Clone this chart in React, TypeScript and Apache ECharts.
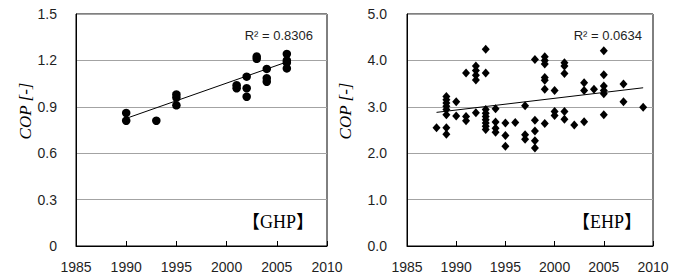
import React, { useEffect, useRef } from "react";
import * as echarts from "echarts";

// GHP (gas heat pump) measured COP by year
const ghpYears = [1990, 1990, 1993, 1995, 1995, 1995, 2001, 2001, 2002, 2002, 2002, 2003, 2003, 2004, 2004, 2004, 2006, 2006, 2006, 2006];
const ghpCop = [0.86, 0.81, 0.81, 0.98, 0.96, 0.91, 1.04, 1.02, 1.095, 1.02, 0.965, 1.225, 1.21, 1.145, 1.085, 1.062, 1.242, 1.2, 1.185, 1.148];
const ghpTrendYears = [1990, 2006];
const ghpTrendCop = [0.825, 1.19];
const ghpR2 = "R² = 0.8306";

// EHP (electric heat pump) measured COP by year
const ehpYears = [
  1988,
  1989, 1989, 1989, 1989, 1989, 1989, 1989, 1989,
  1990, 1990,
  1991, 1991, 1991,
  1992, 1992, 1992, 1992, 1992,
  1993, 1993, 1993, 1993, 1993, 1993, 1993, 1993, 1993,
  1994, 1994, 1994, 1994,
  1995, 1995, 1995,
  1996,
  1997, 1997, 1997,
  1998, 1998, 1998, 1998, 1998,
  1999, 1999, 1999, 1999, 1999, 1999, 1999,
  2000, 2000, 2000,
  2001, 2001, 2001, 2001, 2001,
  2002,
  2003, 2003, 2003,
  2004,
  2005, 2005, 2005, 2005, 2005, 2005,
  2007, 2007,
  2009,
];
const ehpCop = [
  2.55,
  3.22, 3.15, 3.08, 3.01, 2.94, 2.83, 2.55, 2.41,
  3.11, 2.8,
  3.73, 2.79, 2.7,
  3.88, 3.78, 3.68, 3.58, 2.87,
  4.24, 3.73, 2.94, 2.86, 2.79, 2.72, 2.65, 2.58, 2.51,
  2.96, 2.67, 2.54, 2.45,
  2.65, 2.38, 2.15,
  2.66,
  3.02, 2.4, 2.3,
  4.02, 2.71, 2.48, 2.27, 2.11,
  4.08, 4.0, 3.92, 3.63, 3.57, 3.38, 2.64,
  3.35, 2.9, 2.81,
  3.95, 3.88, 3.72, 2.9, 2.73,
  2.61,
  3.52, 3.35, 2.68,
  3.38,
  4.21, 3.69, 3.45, 3.35, 3.28, 2.83,
  3.49, 3.11,
  2.99,
];
const ehpTrendYears = [1988, 2009];
const ehpTrendCop = [2.88, 3.41];
const ehpR2 = "R² = 0.0634";

const xMin = 1985;
const xMax = 2010;
const xStep = 5;
const ghpYMax = 1.5;
const ghpYStep = 0.3;
const ehpYMax = 5.0;
const ehpYStep = 1.0;
const yName = "COP [-]";
const ghpTag = "【GHP】";
const ehpTag = "【EHP】";

const zip = (a: number[], b: number[]) => a.map((v, i) => [v, b[i]]);

const SANS = "'Liberation Sans', Arial, sans-serif";
const SERIF = "'Liberation Serif', 'Times New Roman', 'Noto Sans CJK JP', serif";
const LABEL = "#1f1f1f";
const GRID = "#a3a3a3";

function xAxis(gridIndex: number) {
  return {
    type: "value",
    gridIndex,
    min: xMin,
    max: xMax,
    interval: xStep,
    axisLine: { show: true, lineStyle: { color: "#000", width: 1 } },
    axisTick: { show: true, inside: true, length: 5, lineStyle: { color: "#000" } },
    axisLabel: {
      color: LABEL,
      fontSize: 14,
      fontFamily: SANS,
      margin: 14,
      showMaxLabel: true,
      showMinLabel: true,
      hideOverlap: false,
      formatter: (v: number) => String(Math.round(v)),
    },
    splitLine: { show: false },
  };
}

function yAxis(gridIndex: number, max: number, step: number, fmt: (v: number) => string, margin: number) {
  return {
    type: "value",
    gridIndex,
    min: 0,
    max,
    interval: step,
    axisLine: { show: true, lineStyle: { color: "#000", width: 1 } },
    axisTick: { show: false },
    axisLabel: { color: LABEL, fontSize: 14, fontFamily: SANS, margin, formatter: fmt },
    splitLine: { show: true, lineStyle: { color: GRID, width: 1 } },
  };
}

export default function App() {
  const ref = useRef<HTMLDivElement>(null);
  useEffect(() => {
    if (!ref.current) return;
    const chart = echarts.init(ref.current, null, { renderer: "svg" });
    chart.setOption({
      animation: false,
      backgroundColor: "#fff",
      grid: [
        { left: 76, top: 14, width: 251, height: 232, show: true, borderColor: "#000", borderWidth: 1, backgroundColor: "transparent" },
        { left: 407, top: 14, width: 246, height: 232, show: true, borderColor: "#000", borderWidth: 1, backgroundColor: "transparent" },
      ],
      xAxis: [xAxis(0), xAxis(1)],
      yAxis: [
        yAxis(0, ghpYMax, ghpYStep, (v: number) => (v === 0 ? "0" : v.toFixed(1)), 19),
        yAxis(1, ehpYMax, ehpYStep, (v: number) => v.toFixed(1), 20),
      ],
      series: [
        {
          type: "scatter",
          xAxisIndex: 0,
          yAxisIndex: 0,
          symbol: "circle",
          symbolSize: 8.5,
          itemStyle: { color: "#000", opacity: 1 },
          data: zip(ghpYears, ghpCop),
        },
        {
          type: "line",
          xAxisIndex: 0,
          yAxisIndex: 0,
          symbol: "none",
          lineStyle: { color: "#000", width: 1 },
          data: zip(ghpTrendYears, ghpTrendCop),
        },
        {
          type: "scatter",
          xAxisIndex: 1,
          yAxisIndex: 1,
          symbol: "diamond",
          symbolSize: [8, 9],
          itemStyle: { color: "#000", opacity: 1 },
          data: zip(ehpYears, ehpCop),
        },
        {
          type: "line",
          xAxisIndex: 1,
          yAxisIndex: 1,
          symbol: "none",
          lineStyle: { color: "#000", width: 1 },
          data: zip(ehpTrendYears, ehpTrendCop),
        },
      ],
      graphic: [
        { type: "text", x: 313, y: 35, style: { text: ghpR2, fill: LABEL, font: `13px ${SANS}`, align: "right", verticalAlign: "middle" } },
        { type: "text", x: 642, y: 35, style: { text: ehpR2, fill: LABEL, font: `13px ${SANS}`, align: "right", verticalAlign: "middle" } },
        { type: "text", x: 314, y: 222, style: { text: ghpTag, fill: "#000", font: `18px ${SERIF}`, align: "right", verticalAlign: "middle" } },
        { type: "text", x: 642, y: 222, style: { text: ehpTag, fill: "#000", font: `18px ${SERIF}`, align: "right", verticalAlign: "middle" } },
        { type: "text", x: 25, y: 111, rotation: Math.PI / 2, style: { text: yName, fill: "#000", font: `italic 17px ${SERIF}`, align: "center", verticalAlign: "middle" } },
        { type: "text", x: 345, y: 111, rotation: Math.PI / 2, style: { text: yName, fill: "#000", font: `italic 17px ${SERIF}`, align: "center", verticalAlign: "middle" } },
      ],
    });
    return () => chart.dispose();
  }, []);
  return <div ref={ref} style={{ position: "absolute", left: 0, top: 0, width: 682, height: 277 }} />;
}
